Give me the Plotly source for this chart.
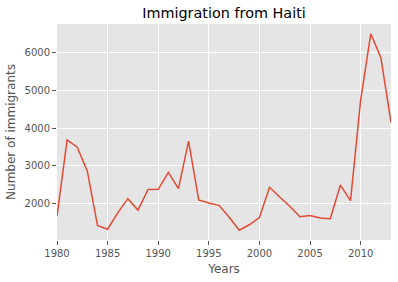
import plotly.graph_objects as go

years = list(range(1980, 2014))
haiti = [1666, 3692, 3498, 2860, 1418, 1321, 1753, 2132, 1829, 2377,
         2379, 2829, 2399, 3655, 2100, 2014, 1955, 1645, 1295, 1439,
         1631, 2433, 2174, 1930, 1652, 1682, 1619, 1598, 2491, 2080,
         4744, 6503, 5868, 4152]
x_ticks = [1980, 1985, 1990, 1995, 2000, 2005, 2010]
y_ticks = [2000, 3000, 4000, 5000, 6000]

fig = go.Figure()
fig.add_trace(go.Scatter(x=years, y=haiti, mode="lines",
                         line=dict(color="#E24A33", width=1.5), showlegend=False))

axis_common = dict(showgrid=True, gridcolor="white", gridwidth=1, zeroline=False,
                   ticks="outside", ticklen=4, tickcolor="#555555", tickwidth=1,
                   tickfont=dict(family="DejaVu Sans", size=10, color="#555555"),
                   showline=False)
fig.update_layout(
    width=398, height=282,
    margin=dict(l=57, r=7, t=24, b=42),
    paper_bgcolor="white", plot_bgcolor="#E5E5E5",
    title=dict(text="Immigration from Haiti", x=0.5, xanchor="center", y=0.953, yanchor="middle",
               xref="paper", font=dict(family="DejaVu Sans", size=14.4, color="black")),
    xaxis=dict(range=[1980, 2013], tickvals=x_ticks,
               title=dict(text="Years", standoff=6,
                          font=dict(family="DejaVu Sans", size=12, color="#555555")),
               **axis_common),
    yaxis=dict(range=[1035, 6763], tickvals=y_ticks,
               title=dict(text="Number of immigrants", standoff=6,
                          font=dict(family="DejaVu Sans", size=12, color="#555555")),
               **axis_common),
)
fig.write_html("out.html")
